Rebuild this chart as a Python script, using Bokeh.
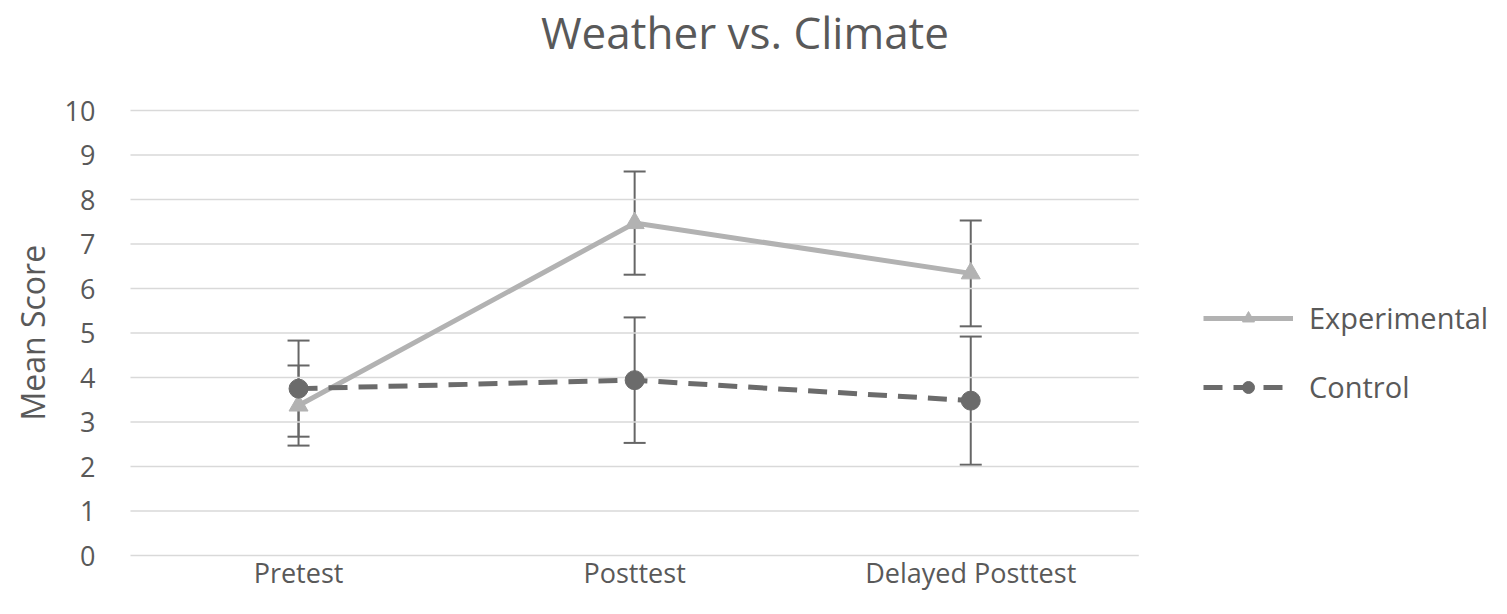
from bokeh.plotting import figure
from bokeh.models import (ColumnDataSource, Whisker, TeeHead, Legend, LegendItem,
                          Title, Label, Range1d, FixedTicker)
from bokeh.core.properties import value
from bokeh.embed import file_html
from bokeh.resources import INLINE

categories = ["Pretest", "Posttest", "Delayed Posttest"]
experimental = [3.37, 7.47, 6.34]
experimental_err = [0.90, 1.16, 1.19]
control = [3.75, 3.94, 3.48]
control_err = [1.08, 1.41, 1.44]
y_ticks = [0, 1, 2, 3, 4, 5, 6, 7, 8, 9, 10]

FONT = "Open Sans"
TXT = "#595959"
EXP_C = "#b2b2b2"
CTL_C = "#6b6b6b"
ERR_C = "#666666"

# layout (pixels)
W, H = 1491, 592
LEFT = 122
FRAME_W = W - LEFT
CAT_W = 1012            # width of the category area
X_SHIFT = 3             # small horizontal nudge of the category area
PX_UNIT = 44.5          # pixels per score unit
Y0_PX = 555             # pixel row of score 0 (from top)

n_cat = len(categories)
xpos = [i + 0.5 for i in range(n_cat)]
unit_x = CAT_W / n_cat

exp_src = ColumnDataSource(dict(
    x=xpos, y=experimental,
    upper=[v + e for v, e in zip(experimental, experimental_err)],
    lower=[v - e for v, e in zip(experimental, experimental_err)]))
ctl_src = ColumnDataSource(dict(
    x=xpos, y=control,
    upper=[v + e for v, e in zip(control, control_err)],
    lower=[v - e for v, e in zip(control, control_err)]))

p = figure(width=W, height=H, output_backend="svg",
           toolbar_location=None,
           x_range=Range1d(-X_SHIFT / unit_x, (FRAME_W - X_SHIFT) / unit_x),
           y_range=Range1d(-(H - Y0_PX) / PX_UNIT, Y0_PX / PX_UNIT),
           min_border_left=LEFT, min_border_right=0,
           min_border_top=0, min_border_bottom=0)
p.title = None
p.outline_line_color = None
p.background_fill_color = "white"
p.border_fill_color = "white"
p.xgrid.grid_line_color = None
p.ygrid.grid_line_color = None
p.xaxis.visible = False

# horizontal gridlines over the category area
p.segment(x0=[0] * len(y_ticks), x1=[n_cat] * len(y_ticks), y0=y_ticks, y1=y_ticks,
          line_color="#d9d9d9", line_width=1.5)

# y axis
yax = p.yaxis[0]
yax.ticker = FixedTicker(ticks=y_ticks)
yax.axis_line_color = None
yax.major_tick_line_color = None
yax.minor_tick_line_color = None
yax.major_label_text_font = FONT
yax.major_label_text_color = TXT
yax.major_label_text_font_size = "27px"
yax.major_label_standoff = 26
p.add_layout(Title(text="Mean Score", align="left", offset=172,
                   text_font=FONT, text_font_size="32px", text_font_style="normal",
                   text_color=TXT, standoff=16), "left")

# chart title
p.add_layout(Label(text="Weather vs. Climate", x=747.5 - 8 - LEFT, y=H - 31,
                   x_units="screen", y_units="screen",
                   text_align="center", text_baseline="middle",
                   text_font=FONT, text_font_size="44px", text_color=TXT))

# category labels
p.text(x=xpos, y=[-(572 - Y0_PX) / PX_UNIT] * n_cat, text=categories,
       text_align="center", text_baseline="middle",
       text_font=value(FONT), text_font_size="27px", text_color=TXT)

# Experimental
w1 = Whisker(source=exp_src, base="x", upper="upper", lower="lower",
             line_color=ERR_C, line_width=2,
             upper_head=TeeHead(size=22, line_color=ERR_C, line_width=2),
             lower_head=TeeHead(size=22, line_color=ERR_C, line_width=2))
p.add_layout(w1)
l1 = p.line("x", "y", source=exp_src, line_color=EXP_C, line_width=5, line_join="round")
m1 = p.scatter("x", "y", source=exp_src, marker="triangle", size=19,
               fill_color=EXP_C, line_color=EXP_C)

# Control
w2 = Whisker(source=ctl_src, base="x", upper="upper", lower="lower",
             line_color=ERR_C, line_width=2,
             upper_head=TeeHead(size=22, line_color=ERR_C, line_width=2),
             lower_head=TeeHead(size=22, line_color=ERR_C, line_width=2))
p.add_layout(w2)
l2 = p.line("x", "y", source=ctl_src, line_color=CTL_C, line_width=5,
            line_dash="19 11")
m2 = p.scatter("x", "y", source=ctl_src, marker="circle", size=19,
               fill_color=CTL_C, line_color=CTL_C)

legend = Legend(items=[LegendItem(label="Experimental", renderers=[l1, m1]),
                       LegendItem(label="Control", renderers=[l2, m2])],
                location=(1076, 186), orientation="vertical",
                glyph_width=90, glyph_height=30, label_height=30,
                label_standoff=16, spacing=30, padding=0, margin=0,
                border_line_color=None, background_fill_alpha=0,
                label_text_font=FONT, label_text_font_size="29px",
                label_text_color=TXT)
p.add_layout(legend, "center")

open("out.html", "w").write(file_html(p, INLINE))
